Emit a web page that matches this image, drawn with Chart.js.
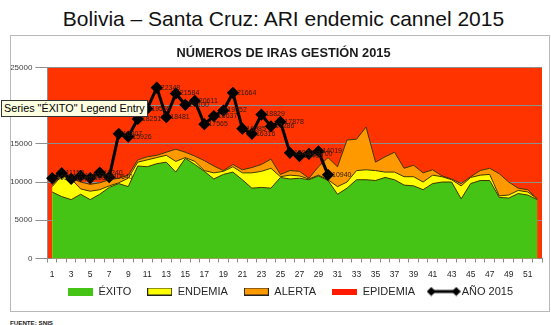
<!DOCTYPE html>
<html>
<head>
<meta charset="utf-8">
<script src="https://cdn.jsdelivr.net/npm/chart.js@4.4.1/dist/chart.umd.min.js"></script>
<style>
  html, body { margin: 0; padding: 0; background: #fff; width: 551px; height: 325px; overflow: hidden; }
  #titulo { position: absolute; left: 8px; top: 8px; width: 551px; text-align: center;
            font: 21px/21px 'Liberation Sans', Arial, sans-serif; color: #111; }
  #marco { position: absolute; left: 10px; top: 35px; width: 538px; height: 275px; border: 1px solid #b9b9b9; }
  #grafico { position: absolute; left: 0; top: 0; }
  #aviso { position: absolute; left: 1px; top: 100px; width: 143px; height: 15px; background: #ffffe1;
           border: 1px solid #333; font: 10.8px/15px 'Liberation Sans', Arial, sans-serif; color: #000;
           padding-left: 2px; white-space: nowrap; overflow: hidden; }
  #fuente { position: absolute; left: 10px; top: 319px; font: bold 6.2px 'Liberation Sans', Arial, sans-serif; color: #222; }
</style>
</head>
<body>
<div id="titulo">Bolivia – Santa Cruz: ARI endemic cannel 2015</div>
<div id="marco"><canvas id="grafico" width="538" height="282"></canvas></div>
<div id="aviso">Series "ÉXITO" Legend Entry</div>
<div id="fuente">FUENTE: SNIS</div>
<script>
const colores = {
    exito: '#46c416',
    endemia: '#ffff00',
    alerta: '#ff9900',
    epidemia: '#ff3300',
    anio: '#000000',
    contorno: '#3f3500'
};

// semanas epidemiológicas
const semanas = ['1', '2', '3', '4', '5', '6', '7', '8', '9', '10', '11', '12', '13',
    '14', '15', '16', '17', '18', '19', '20', '21', '22', '23', '24', '25', '26',
    '27', '28', '29', '30', '31', '32', '33', '34', '35', '36', '37', '38', '39',
    '40', '41', '42', '43', '44', '45', '46', '47', '48', '49', '50', '51', '52'];

// límites superiores de cada zona del canal endémico
const exito = [8700, 8100, 7700, 8400, 7700, 8400, 9300, 9800, 9400, 12100, 12000, 12400, 12600,
    11300, 13100, 12300, 11400, 10400, 11000, 11300, 10300, 9200, 9300, 9200, 10600, 10400,
    10500, 10300, 10800, 10200, 8400, 9200, 10300, 10300, 10200, 10600, 10300, 9600, 9500,
    9000, 9800, 10000, 10000, 7800, 9800, 10200, 10200, 8000, 7900, 8500, 8300, 7700];

const endemia = [9400, 10800, 10400, 9100, 8800, 9000, 9500, 9900, 10500, 12600, 12900, 13200, 13500,
    12700, 13200, 12700, 11500, 11200, 11400, 12000, 11200, 11200, 11400, 11800, 10700, 10900,
    10800, 10400, 10900, 10300, 9400, 10000, 11500, 11600, 11500, 11300, 11300, 10700, 10700,
    10000, 10900, 10700, 10300, 9500, 10600, 10900, 11000, 8200, 8300, 8900, 8700, 7800];

const alerta = [9600, 11000, 10500, 10000, 9700, 9900, 10300, 10500, 10900, 12900, 13300, 13500, 13900,
    14300, 13900, 13400, 12800, 12100, 11500, 12300, 11600, 11900, 12300, 13000, 11000, 11500,
    11400, 10500, 12000, 13200, 12000, 15500, 15600, 17200, 12600, 13300, 13900, 11800, 12200,
    11200, 11600, 10800, 10400, 9800, 10700, 11500, 11800, 11100, 10000, 9200, 9000, 7800];

const epidemia = [25000, 25000, 25000, 25000, 25000, 25000, 25000, 25000, 25000, 25000, 25000, 25000, 25000,
    25000, 25000, 25000, 25000, 25000, 25000, 25000, 25000, 25000, 25000, 25000, 25000, 25000,
    25000, 25000, 25000, 25000, 25000, 25000, 25000, 25000, 25000, 25000, 25000, 25000, 25000,
    25000, 25000, 25000, 25000, 25000, 25000, 25000, 25000, 25000, 25000, 25000, 25000, 25000];

// casos notificados en 2015 (semanas 1 a 30)
const anio2015 = [10500, 11152, 10400, 10800, 10525, 11240, 10640, 16307, 15926, 18251, 19598, 22348,
    18481, 21584, 20100, 20611, 17565, 18637, 19352, 21664, 16985, 16316, 18829, 17286, 17878,
    13830, 13400, 13700, 14019, 10940];

const marcasY = [0, 5000, 10000, 15000, 20000, 25000];

const fuente = "'Liberation Sans', Arial, sans-serif";

// muestras pequeñas para la leyenda
function muestra(ancho, alto, pintar) {
    const c = document.createElement('canvas');
    c.width = ancho;
    c.height = alto;
    pintar(c.getContext('2d'));
    return c;
}

function caja(color, borde) {
    return muestra(25, 8, ctx => {
        ctx.fillStyle = color;
        ctx.fillRect(0, 0, 25, 8);
        if (borde) {
            ctx.strokeStyle = '#222';
            ctx.lineWidth = 1;
            ctx.strokeRect(0.5, 0.5, 24, 7);
        }
    });
}

function rombo(ctx, x, y, r) {
    ctx.beginPath();
    ctx.moveTo(x, y - r);
    ctx.lineTo(x + r, y);
    ctx.lineTo(x, y + r);
    ctx.lineTo(x - r, y);
    ctx.closePath();
    ctx.fill();
}

const iconos = [
    caja(colores.exito, false),
    caja(colores.endemia, true),
    caja(colores.alerta, true),
    muestra(25, 6, ctx => { ctx.fillStyle = '#ff1a00'; ctx.fillRect(0, 0, 25, 6); }),
    muestra(34, 10, ctx => {
        ctx.strokeStyle = '#000';
        ctx.fillStyle = '#000';
        ctx.lineWidth = 3;
        ctx.beginPath();
        ctx.moveTo(4, 5);
        ctx.lineTo(30, 5);
        ctx.stroke();
        rombo(ctx, 4.5, 5, 4.5);
        rombo(ctx, 29.5, 5, 4.5);
    })
];

// fondo rojo de la zona de epidemia, bajo la grilla
const fondoEpidemia = {
    id: 'fondoEpidemia',
    beforeDraw(chart) {
        const {ctx, chartArea} = chart;
        const y = chart.scales.y;
        const tope = y.getPixelForValue(Math.max(...epidemia));
        ctx.save();
        ctx.fillStyle = colores.epidemia;
        ctx.fillRect(chartArea.left, tope, chartArea.right - chartArea.left, chartArea.bottom - tope);
        ctx.restore();
    }
};

// título y leyenda algo corridos; la leyenda sube hacia las semanas
const corrimiento = {
    id: 'corrimiento',
    afterLayout(chart) {
        chart.titleBlock.left += 5;
        chart.titleBlock.right += 5;
        chart.legend.left += 12;
        chart.legend.right += 12;
        chart.legend.top -= 10.5;
        chart.legend.bottom -= 10.5;
    }
};

// etiquetas con el valor de cada semana de 2015
const etiquetasAnio = {
    id: 'etiquetasAnio',
    afterDatasetsDraw(chart) {
        const {ctx} = chart;
        const meta = chart.getDatasetMeta(0);
        ctx.save();
        ctx.font = '7px ' + fuente;
        ctx.fillStyle = '#2a1a12';
        ctx.textAlign = 'left';
        ctx.textBaseline = 'middle';
        meta.data.forEach((p, i) => {
            ctx.fillText(String(anio2015[i]), p.x + 4, p.y);
        });
        ctx.restore();
    }
};

function area(nombre, datos, color, orden) {
    return {
        label: nombre,
        data: datos,
        backgroundColor: color,
        borderColor: colores.contorno,
        borderWidth: 1,
        pointRadius: 0,
        tension: 0,
        fill: 'origin',
        order: orden
    };
}

new Chart(document.getElementById('grafico'), {
    type: 'line',
    data: {
        labels: semanas,
        datasets: [
            {
                label: 'AÑO 2015',
                data: anio2015,
                borderColor: colores.anio,
                backgroundColor: colores.anio,
                borderWidth: 3,
                pointStyle: 'rectRot',
                pointRadius: 4,
                tension: 0,
                fill: false,
                order: 0
            },
            area('ÉXITO', exito, colores.exito, 1),
            area('ENDEMIA', endemia, colores.endemia, 2),
            area('ALERTA', alerta, colores.alerta, 3),
            {
                label: 'EPIDEMIA',
                data: epidemia,
                borderWidth: 0,
                pointRadius: 0,
                showLine: false,
                fill: false,
                order: 4
            }
        ]
    },
    options: {
        responsive: false,
        animation: false,
        layout: { padding: { top: 0, right: 3, bottom: 0.5, left: 0 } },
        plugins: {
            title: {
                display: true,
                text: 'NÚMEROS DE IRAS GESTIÓN 2015',
                color: '#1a1a1a',
                font: { family: fuente, size: 12.8, weight: 'bold', lineHeight: 1.2 },
                padding: { top: 10, bottom: 6 }
            },
            legend: {
                position: 'bottom',
                labels: {
                    usePointStyle: true,
                    pointStyleWidth: 25,
                    padding: 16,
                    color: '#262626',
                    font: { family: fuente, size: 11 },
                    generateLabels() {
                        const nombres = ['ÉXITO', 'ENDEMIA', 'ALERTA', 'EPIDEMIA', 'AÑO 2015'];
                        const indices = [1, 2, 3, 4, 0];
                        return nombres.map((t, i) => ({
                            text: t,
                            pointStyle: iconos[i],
                            fillStyle: 'transparent',
                            strokeStyle: 'transparent',
                            lineWidth: 0,
                            fontColor: '#262626',
                            hidden: false,
                            datasetIndex: indices[i]
                        }));
                    }
                }
            },
            tooltip: { enabled: false }
        },
        scales: {
            x: {
                offset: true,
                afterFit(scale) { scale.height = 22; },
                grid: { offset: true, drawOnChartArea: false, tickLength: 4, color: '#8a8a8a' },
                border: { color: '#8a8a8a' },
                ticks: {
                    autoSkip: false,
                    maxRotation: 0,
                    minRotation: 0,
                    padding: 7,
                    color: '#262626',
                    font: { family: fuente, size: 8.5 },
                    callback: (v, i) => (i % 2 === 0 ? semanas[i] : '')
                }
            },
            y: {
                min: 0,
                max: 25000,
                afterFit(scale) { scale.width = 36.4; },
                afterBuildTicks(scale) { scale.ticks = marcasY.map(v => ({ value: v })); },
                grid: { color: '#8f8f8f', tickLength: 12 },
                border: { color: '#8f8f8f' },
                ticks: {
                    padding: 3,
                    color: '#404040',
                    font: { family: fuente, size: 8 },
                    callback: v => String(v)
                }
            }
        }
    },
    plugins: [fondoEpidemia, corrimiento, etiquetasAnio]
});
</script>
</body>
</html>
